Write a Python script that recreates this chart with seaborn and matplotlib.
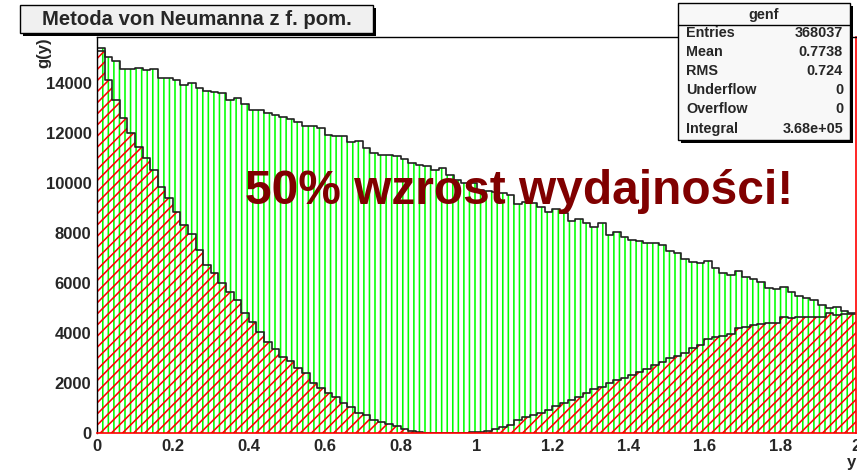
import numpy as np
import pandas as pd
import matplotlib
matplotlib.use("Agg")
import matplotlib.pyplot as plt
from matplotlib.patches import Rectangle
from matplotlib.lines import Line2D
import seaborn as sns

# --------------------------------------------------------------
# data: 100 bins on [0, 2], counts
# --------------------------------------------------------------
n_bins = 100
bin_range = (0, 2)
bin_edges = np.linspace(bin_range[0], bin_range[1], n_bins + 1)
bin_centers = (bin_edges[:-1] + bin_edges[1:]) / 2

# outer histogram (green, vertical hatch)
green_counts = [
    15420, 15030, 14880, 14560, 14560, 14600, 14540, 14550, 14200, 14190,
    14130, 13920, 14000, 13790, 13670, 13640, 13600, 13320, 13410, 13160,
    12920, 12920, 12810, 12720, 12630, 12560, 12450, 12280, 12280, 12190,
    11920, 11880, 11880, 11650, 11690, 11390, 11190, 11120, 11120, 11080,
    10950, 10790, 10720, 10680, 10520, 10590, 10320, 10120, 9990, 9990,
    9720, 9690, 9630, 9590, 9520, 9160, 9250, 9210, 9050, 8850,
    8950, 8790, 8490, 8550, 8410, 8250, 8390, 7920, 8050, 7850,
    7720, 7690, 7590, 7610, 7520, 7280, 7190, 6960, 6850, 6820,
    6890, 6590, 6410, 6320, 6480, 6230, 6150, 6050, 5790, 5750,
    5830, 5630, 5490, 5410, 5320, 5120, 4990, 5030, 4880, 4790,
]

# inner histogram "genf" (red, diagonal hatch)
red_counts = [
    15300, 14120, 13320, 12590, 11990, 11450, 10990, 10520, 9850, 9390,
    8850, 8320, 7950, 7320, 6730, 6390, 5990, 5650, 5320, 4790,
    4450, 4050, 3650, 3350, 3050, 2900, 2590, 2390, 1990, 1790,
    1590, 1450, 1190, 1050, 790, 720, 520, 450, 360, 280,
    150, 90, 30, 10, 5, 0, 0, 5, 10, 27,
    53, 80, 150, 250, 320, 520, 630, 720, 810, 920,
    1080, 1210, 1320, 1450, 1590, 1750, 1830, 1990, 2120, 2190,
    2320, 2450, 2550, 2720, 2850, 2990, 3080, 3210, 3390, 3520,
    3760, 3830, 3880, 3960, 4190, 4230, 4320, 4350, 4390, 4410,
    4630, 4590, 4630, 4630, 4650, 4630, 4790, 4720, 4760, 4750,
]

x_ticks = [0, 0.2, 0.4, 0.6, 0.8, 1.0, 1.2, 1.4, 1.6, 1.8, 2.0]
x_tick_labels = ['0', '0.2', '0.4', '0.6', '0.8', '1', '1.2', '1.4', '1.6', '1.8', '2']
y_ticks = [0, 2000, 4000, 6000, 8000, 10000, 12000, 14000]

stats_names = ['Entries', 'Mean', 'RMS', 'Underflow', 'Overflow', 'Integral']
stats_values = ['368037', '0.7738', '0.724', '0', '0', '3.68e+05']

df = pd.DataFrame({'y': bin_centers, 'green': green_counts, 'red': red_counts})

# --------------------------------------------------------------
# style
# --------------------------------------------------------------
sns.set_style('white')
plt.rcParams['font.family'] = ['Liberation Sans', 'DejaVu Sans']
plt.rcParams['font.weight'] = 'bold'
plt.rcParams['hatch.linewidth'] = 1.15

W, H = 857, 470
def fx(px):
    return px / W
def fy(py):
    return 1 - py / H

fig = plt.figure(figsize=(W / 100, H / 100), dpi=100)
fig.patch.set_facecolor('white')
ax = fig.add_axes([fx(97), fy(433), (856 - 97) / W, (433 - 37) / H])

hist_kw = dict(data=df, x='y', bins=n_bins, binrange=bin_range, element='step', ax=ax)

# hatched fills (no outline), then black step outlines
sns.histplot(weights='green', fill=True, color='#00ff00', facecolor='none',
             edgecolor='#00ff00', linewidth=0, hatch='|||', **hist_kw)
sns.histplot(weights='red', fill=True, color='#ff0000', facecolor='none',
             edgecolor='#ff0000', linewidth=0, hatch='///', **hist_kw)
sns.histplot(weights='green', fill=False, color='#222222', linewidth=1.2, **hist_kw)
sns.histplot(weights='red', fill=False, color='#222222', linewidth=1.2, **hist_kw)

ax.set_xlim(0, 2)
ax.set_ylim(0, 15840)
ax.set_xlabel('')
ax.set_ylabel('')
ax.set_facecolor('white')

ax.set_xticks(x_ticks)
ax.set_xticklabels(x_tick_labels)
ax.set_xticks(np.arange(0, 2.0001, 0.05), minor=True)
ax.set_yticks(y_ticks)
ax.set_yticklabels([str(v) for v in y_ticks])
ax.set_yticks(np.arange(0, 15840, 500), minor=True)

ax.tick_params(axis='both', which='both', direction='in', labelsize=12,
               width=0.9, color='black', top=False, right=False)
ax.tick_params(axis='x', which='major', length=7.5, pad=4)
ax.tick_params(axis='x', which='minor', length=3.6)
ax.tick_params(axis='y', which='major', length=16, pad=4)
ax.tick_params(axis='y', which='minor', length=8)
for lab in ax.get_xticklabels() + ax.get_yticklabels():
    lab.set_fontweight('bold')

for side in ['left', 'top']:
    ax.spines[side].set_color('black')
    ax.spines[side].set_linewidth(1.0)
for side in ['bottom', 'right']:
    ax.spines[side].set_color('red')
    ax.spines[side].set_linewidth(1.2)

# axis titles
fig.text(fx(44), fy(37), 'g(y)', rotation=90, ha='center', va='top',
         fontsize=12, fontweight='bold')
fig.text(fx(851), fy(462), 'y', ha='center', va='center',
         fontsize=12, fontweight='bold')

# title box (ROOT style with shadow)
fig.patches.append(Rectangle((fx(23), fy(36)), (373 - 20) / W, 28 / H,
                             transform=fig.transFigure, facecolor='black',
                             edgecolor='none', zorder=5))
fig.patches.append(Rectangle((fx(20), fy(33)), (373 - 20) / W, 28 / H,
                             transform=fig.transFigure, facecolor='#f0f0f0',
                             edgecolor='black', linewidth=1.0, zorder=6))
fig.text(fx(196.5), fy(19.5), 'Metoda von Neumanna z f. pom.', ha='center',
         va='center', fontsize=14.6, fontweight='bold', zorder=7)

# stats box
fig.patches.append(Rectangle((fx(681), fy(143)), (850 - 678) / W, (140 - 3) / H,
                             transform=fig.transFigure, facecolor='black',
                             edgecolor='none', zorder=5))
fig.patches.append(Rectangle((fx(678), fy(140)), (850 - 678) / W, (140 - 3) / H,
                             transform=fig.transFigure, facecolor='#f8f8f8',
                             edgecolor='black', linewidth=1.0, zorder=6))
fig.lines.append(Line2D([fx(678), fx(850)], [fy(25), fy(25)],
                        transform=fig.transFigure, color='black',
                        linewidth=1.0, zorder=7))
fig.text(fx(764), fy(15), 'genf', ha='center', va='center',
         fontsize=10.4, fontweight='bold', zorder=8)
row_y = [33, 52, 71, 90, 109, 129]
for name, val, ry in zip(stats_names, stats_values, row_y):
    fig.text(fx(686), fy(ry), name, ha='left', va='center',
             fontsize=10.4, fontweight='bold', zorder=8)
    fig.text(fx(843), fy(ry), val, ha='right', va='center',
             fontsize=10.4, fontweight='bold', zorder=8)

# big annotation
fig.text(fx(245), fy(204), '50% wzrost wydajności!', ha='left', va='baseline',
         color='#800000', fontsize=34.5, fontweight='bold', zorder=8)

fig.savefig('out.png', dpi=100)
